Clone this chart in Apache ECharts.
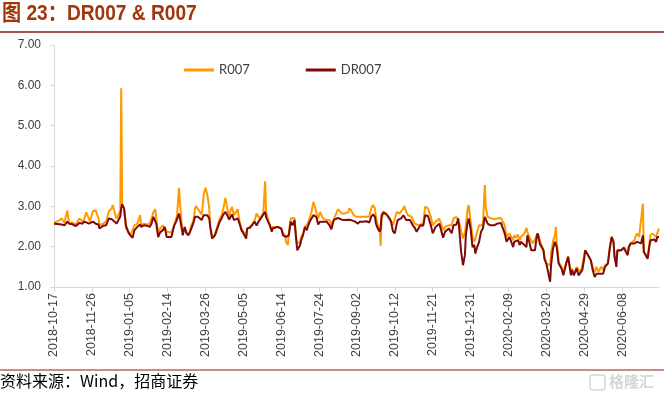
<!DOCTYPE html>
<html>
<head>
<meta charset="utf-8">
<script src="https://cdn.jsdelivr.net/npm/echarts@6/dist/echarts.min.js"></script>
<style>
html,body{margin:0;padding:0;background:#fff;}
#chart{width:664px;height:393px;}
</style>
</head>
<body>
<div id="chart"></div>
<script>
// ---- data ----
const tickDates = ['2018-10-17','2018-11-26','2019-01-05','2019-02-14','2019-03-26','2019-05-05','2019-06-14','2019-07-24','2019-09-02','2019-10-12','2019-11-21','2019-12-31','2020-02-09','2020-03-20','2020-04-29','2020-06-08'];

const dates = [
'2018-10-17','2018-10-21','2018-10-25','2018-10-28','2018-10-31','2018-11-02','2018-11-05','2018-11-09','2018-11-10','2018-11-13',
'2018-11-16','2018-11-18','2018-11-20','2018-11-23','2018-11-24','2018-11-27','2018-11-30','2018-12-03','2018-12-04','2018-12-08',
'2018-12-11','2018-12-14','2018-12-17','2018-12-18','2018-12-20','2018-12-22','2018-12-24','2018-12-26','2018-12-27','2018-12-28',
'2018-12-30','2019-01-01','2019-01-04','2019-01-06','2019-01-08','2019-01-10','2019-01-13','2019-01-16','2019-01-17','2019-01-20',
'2019-01-23','2019-01-26','2019-01-28','2019-01-30','2019-02-01','2019-02-02','2019-02-04','2019-02-06','2019-02-09','2019-02-11',
'2019-02-13','2019-02-15','2019-02-18','2019-02-21','2019-02-23','2019-02-24','2019-02-26','2019-02-27','2019-03-01','2019-03-02',
'2019-03-04','2019-03-06','2019-03-08','2019-03-09','2019-03-11','2019-03-13','2019-03-15','2019-03-16','2019-03-18','2019-03-20',
'2019-03-22','2019-03-23','2019-03-24','2019-03-26','2019-03-28','2019-03-30','2019-03-31','2019-04-02','2019-04-05','2019-04-07',
'2019-04-10','2019-04-12','2019-04-14','2019-04-16','2019-04-18','2019-04-20','2019-04-21','2019-04-23','2019-04-25','2019-04-27',
'2019-04-29','2019-05-01','2019-05-03','2019-05-05','2019-05-08','2019-05-09','2019-05-12','2019-05-14','2019-05-15','2019-05-17',
'2019-05-19','2019-05-21','2019-05-22','2019-05-24','2019-05-26','2019-05-28','2019-05-29','2019-05-31','2019-06-02','2019-06-04',
'2019-06-05','2019-06-07','2019-06-10','2019-06-12','2019-06-14','2019-06-16','2019-06-18','2019-06-19','2019-06-21','2019-06-22',
'2019-06-24','2019-06-26','2019-06-28','2019-06-30','2019-07-01','2019-07-04','2019-07-05','2019-07-07','2019-07-09','2019-07-11',
'2019-07-12','2019-07-14','2019-07-16','2019-07-18','2019-07-19','2019-07-21','2019-07-23','2019-07-25','2019-07-26','2019-07-28',
'2019-07-30','2019-08-01','2019-08-02','2019-08-04','2019-08-06','2019-08-08','2019-08-09','2019-08-11','2019-08-13','2019-08-15',
'2019-08-17','2019-08-18','2019-08-20','2019-08-22','2019-08-24','2019-08-25','2019-08-27','2019-08-29','2019-08-31','2019-09-01',
'2019-09-03','2019-09-05','2019-09-07','2019-09-08','2019-09-10','2019-09-12','2019-09-14','2019-09-15','2019-09-17','2019-09-19',
'2019-09-21','2019-09-22','2019-09-24','2019-09-26','2019-09-27','2019-09-28','2019-09-30','2019-10-01','2019-10-03','2019-10-05',
'2019-10-07','2019-10-08','2019-10-10','2019-10-12','2019-10-14','2019-10-15','2019-10-17','2019-10-19','2019-10-21','2019-10-22',
'2019-10-24','2019-10-26','2019-10-28','2019-10-30','2019-10-31','2019-11-02','2019-11-04','2019-11-06','2019-11-08','2019-11-11',
'2019-11-13','2019-11-16','2019-11-19','2019-11-21','2019-11-24','2019-11-28','2019-11-29','2019-12-02','2019-12-04','2019-12-06',
'2019-12-08','2019-12-11','2019-12-13','2019-12-16','2019-12-18','2019-12-20','2019-12-21','2019-12-23','2019-12-25','2019-12-26',
'2019-12-28','2019-12-29','2019-12-31','2020-01-02','2020-01-04','2020-01-05','2020-01-07','2020-01-09','2020-01-11','2020-01-13',
'2020-01-15','2020-01-16','2020-01-18','2020-01-21','2020-01-25','2020-01-28','2020-02-01','2020-02-03','2020-02-05','2020-02-07',
'2020-02-08','2020-02-10','2020-02-12','2020-02-14','2020-02-15','2020-02-17','2020-02-19','2020-02-21','2020-02-22','2020-02-24',
'2020-02-26','2020-02-28','2020-02-29','2020-03-02','2020-03-04','2020-03-06','2020-03-08','2020-03-10','2020-03-11','2020-03-13',
'2020-03-15','2020-03-17','2020-03-18','2020-03-20','2020-03-22','2020-03-24','2020-03-25','2020-03-27','2020-03-29','2020-03-30',
'2020-03-31','2020-04-02','2020-04-03','2020-04-05','2020-04-07','2020-04-08','2020-04-10','2020-04-12','2020-04-13','2020-04-15',
'2020-04-16','2020-04-18','2020-04-20','2020-04-21','2020-04-23','2020-04-25','2020-04-27','2020-04-29','2020-04-30','2020-05-02',
'2020-05-04','2020-05-06','2020-05-07','2020-05-08','2020-05-10','2020-05-12','2020-05-14','2020-05-15','2020-05-17','2020-05-19',
'2020-05-21','2020-05-23','2020-05-24','2020-05-26','2020-05-28','2020-05-30','2020-05-31','2020-06-02','2020-06-03','2020-06-05',
'2020-06-07','2020-06-08','2020-06-10','2020-06-12','2020-06-14','2020-06-15','2020-06-17','2020-06-19','2020-06-21','2020-06-22',
'2020-06-24','2020-06-26','2020-06-28','2020-06-30','2020-07-01','2020-07-03','2020-07-05','2020-07-07','2020-07-08','2020-07-10',
'2020-07-12','2020-07-14','2020-07-15','2020-07-17'
];

const r007 = [
2.60,2.63,2.70,2.60,2.90,2.57,2.60,2.55,2.55,2.70,
2.62,2.68,2.85,2.68,2.63,2.88,2.90,2.70,2.53,2.57,
2.62,2.88,2.95,3.03,2.86,2.70,2.78,2.90,5.93,3.05,
2.95,2.47,2.35,2.30,2.28,2.53,2.57,2.78,2.53,2.57,
2.55,2.57,2.70,2.86,2.93,2.70,2.33,2.45,2.53,2.55,
2.37,2.35,2.35,2.53,2.70,2.78,3.46,3.11,2.53,2.37,
2.45,2.33,2.33,2.33,2.53,2.62,2.95,3.01,2.99,2.86,
2.80,2.99,3.28,3.46,3.28,2.95,2.53,2.24,2.30,2.33,
2.70,2.78,2.95,3.21,2.95,2.70,2.86,2.99,2.78,2.74,
2.93,2.62,2.45,2.37,2.30,2.45,2.49,2.53,2.57,2.66,
2.82,2.86,2.70,2.76,2.82,3.62,2.86,2.70,2.53,2.41,
2.49,2.49,2.49,2.49,2.45,2.33,2.28,2.12,2.04,2.33,
2.70,2.74,2.71,2.20,2.08,2.12,2.24,2.33,2.49,2.45,
2.57,2.70,2.86,3.11,3.03,2.86,2.70,2.86,2.82,2.70,
2.70,2.66,2.70,2.66,2.53,2.66,2.70,2.82,2.93,2.90,
2.82,2.82,2.82,2.82,2.86,2.95,2.90,2.80,2.78,2.74,
2.70,2.74,2.76,2.74,2.74,2.74,2.71,2.74,2.95,3.03,
2.95,2.74,2.53,2.45,2.02,2.70,2.82,2.86,2.82,2.78,
2.70,2.66,2.53,2.70,2.86,2.86,2.82,2.82,2.95,3.01,
2.86,2.78,2.74,2.74,2.66,2.57,2.53,2.53,2.53,2.57,
2.99,2.95,2.74,2.53,2.62,2.70,2.62,2.41,2.49,2.53,
2.53,2.53,2.70,2.74,2.74,2.53,2.37,2.20,2.37,2.53,
2.95,3.03,3.07,2.24,2.12,2.20,2.37,2.53,2.57,2.53,
3.53,2.99,2.74,2.71,2.68,2.70,2.71,2.71,2.53,2.24,
2.20,2.33,2.24,2.16,2.28,2.22,2.30,2.16,2.24,2.28,
2.33,2.47,2.37,2.24,2.16,2.08,2.04,2.28,2.33,2.16,
2.04,1.91,1.75,1.58,1.62,1.54,1.83,2.12,2.28,2.49,
2.12,1.62,1.58,1.50,1.37,1.42,1.62,1.75,1.79,1.33,
1.46,1.33,1.42,1.50,1.54,1.37,1.54,1.79,1.91,1.83,
1.75,1.66,1.58,1.50,1.37,1.50,1.37,1.42,1.50,1.42,
1.54,1.54,1.58,1.99,2.24,2.12,1.79,1.66,1.87,1.87,
1.91,1.91,1.99,1.91,1.83,1.95,2.08,2.12,2.16,2.24,
2.33,2.24,2.24,3.07,1.87,1.83,1.75,2.08,2.28,2.33,
2.33,2.24,2.33,2.45
];

const dr007 = [
2.57,2.56,2.55,2.53,2.62,2.57,2.56,2.51,2.49,2.59,
2.57,2.62,2.60,2.57,2.59,2.62,2.57,2.55,2.45,2.52,
2.53,2.70,2.68,2.65,2.62,2.57,2.60,2.75,2.95,3.05,
2.95,2.52,2.33,2.27,2.22,2.41,2.49,2.55,2.49,2.53,
2.52,2.49,2.57,2.74,2.78,2.57,2.24,2.35,2.41,2.49,
2.24,2.20,2.24,2.53,2.62,2.66,2.82,2.70,2.45,2.28,
2.49,2.33,2.28,2.33,2.45,2.57,2.74,2.76,2.74,2.70,
2.66,2.70,2.78,2.82,2.78,2.70,2.49,2.20,2.28,2.30,
2.62,2.70,2.80,2.86,2.78,2.67,2.71,2.80,2.66,2.66,
2.70,2.57,2.41,2.33,2.20,2.45,2.47,2.53,2.55,2.62,
2.52,2.62,2.66,2.72,2.80,2.86,2.74,2.62,2.53,2.37,
2.45,2.49,2.49,2.49,2.45,2.28,2.24,2.24,2.24,2.28,
2.62,2.53,2.66,2.12,1.91,2.04,2.16,2.28,2.49,2.41,
2.49,2.62,2.70,2.78,2.82,2.74,2.55,2.62,2.66,2.62,
2.66,2.62,2.62,2.53,2.43,2.62,2.67,2.66,2.71,2.70,
2.67,2.66,2.66,2.68,2.67,2.67,2.66,2.66,2.62,2.62,
2.57,2.62,2.63,2.62,2.62,2.63,2.62,2.60,2.74,2.80,
2.74,2.57,2.45,2.37,2.45,2.78,2.86,2.84,2.80,2.74,
2.70,2.62,2.38,2.33,2.57,2.66,2.70,2.71,2.78,2.82,
2.66,2.62,2.66,2.68,2.53,2.47,2.37,2.33,2.53,2.52,
2.78,2.76,2.53,2.33,2.49,2.57,2.49,2.22,2.37,2.41,
2.45,2.33,2.53,2.55,2.70,2.16,1.87,1.54,1.79,2.28,
2.62,2.70,2.45,1.99,2.04,1.83,1.99,2.12,2.37,2.45,
2.74,2.70,2.57,2.53,2.53,2.57,2.59,2.57,2.33,2.12,
2.12,2.24,2.20,1.99,2.12,2.08,2.16,2.04,2.12,2.16,
2.04,1.99,2.28,2.12,1.91,1.89,1.91,2.28,2.33,2.08,
1.99,1.91,1.70,1.58,1.54,1.13,1.54,1.95,2.12,2.16,
1.99,1.58,1.54,1.46,1.29,1.33,1.58,1.75,1.77,1.29,
1.42,1.29,1.33,1.46,1.29,1.33,1.42,1.70,1.91,1.83,
1.75,1.66,1.54,1.42,1.25,1.33,1.29,1.33,1.37,1.33,
1.50,1.50,1.58,1.95,2.24,2.12,1.75,1.50,1.91,1.95,
1.91,1.91,1.97,1.87,1.79,1.99,2.08,2.08,2.08,2.12,
2.12,2.12,2.08,2.28,1.87,1.83,1.70,2.04,2.16,2.20,
2.18,2.12,2.24,2.24
];

// ---- build ----
const DAY = 86400000;
const origin = Date.UTC(2018, 9, 17);
function toOffset(s) {
  const p = s.split('-').map(Number);
  return Math.round((Date.UTC(p[0], p[1] - 1, p[2]) - origin) / DAY);
}
function toDateStr(off) {
  return new Date(origin + off * DAY).toISOString().slice(0, 10);
}
const tickOffsets = tickDates.map(toOffset);
const xs = dates.map(toOffset);
const rData = xs.map((x, i) => [x, r007[i]]);
const drData = xs.map((x, i) => [x, dr007[i]]);
const xMax = xs[xs.length - 1];

const chart = echarts.init(document.getElementById('chart'), null, {renderer: 'canvas'});
const axisColor = '#D9D9D9';
const labelColor = '#404040';
chart.setOption({
  animation: false,
  backgroundColor: '#fff',
  grid: {left: 54, right: 5, top: 45, bottom: 106, containLabel: false},
  legend: {
    data: ['R007', 'DR007'],
    icon: 'rect',
    left: 184, top: 62, padding: 0,
    itemWidth: 30, itemHeight: 3, itemGap: 56,
    textStyle: {fontSize: 13, color: labelColor, fontFamily: 'Lato, "Noto Sans", sans-serif', lineHeight: 16}
  },
  xAxis: {
    type: 'value', min: 0, max: xMax,
    axisLine: {show: true, lineStyle: {color: axisColor, width: 1}},
    axisTick: {show: true, length: 5, customValues: tickOffsets, lineStyle: {color: axisColor}},
    splitLine: {show: false},
    axisLabel: {
      customValues: tickOffsets,
      rotate: 90, margin: 6,
      fontSize: 12.5, color: labelColor, fontFamily: '"Liberation Sans", Arial, sans-serif',
      formatter: v => toDateStr(v)
    }
  },
  yAxis: {
    type: 'value', min: 1, max: 7, interval: 1,
    axisLine: {show: true, lineStyle: {color: axisColor, width: 1}},
    axisTick: {show: true, length: 4, lineStyle: {color: axisColor}},
    splitLine: {show: false},
    axisLabel: {
      margin: 13, fontSize: 12, color: labelColor,
      fontFamily: '"Liberation Sans", Arial, sans-serif',
      formatter: v => v.toFixed(2)
    }
  },
  series: [
    {name: 'R007', type: 'line', data: rData, symbol: 'none', showSymbol: false,
     lineStyle: {color: '#FF9900', width: 2}, itemStyle: {color: '#FF9900'}},
    {name: 'DR007', type: 'line', data: drData, symbol: 'none', showSymbol: false,
     lineStyle: {color: '#7F0A0A', width: 2}, itemStyle: {color: '#7F0A0A'}}
  ],
  graphic: [
    {type: 'text', x: 2, y: 3, scaleX: 0.87, silent: true,
     style: {text: '图 23：DR007 & R007', fill: '#A0360A',
       font: 'bold 22px "Liberation Sans", "Noto Sans CJK SC", sans-serif'}},
    {type: 'line', silent: true, shape: {x1: 0, y1: 32, x2: 664, y2: 32},
     style: {stroke: '#8B1A1A', lineWidth: 1.5}},
    {type: 'line', silent: true, shape: {x1: 0, y1: 370, x2: 664, y2: 370},
     style: {stroke: '#8B1A1A', lineWidth: 1}},
    {type: 'text', left: 0, top: 373, silent: true,
     style: {text: '资料来源：Wind，招商证券', fill: '#000',
       font: '16px "Noto Sans CJK SC", sans-serif'}},
    {type: 'rect', silent: true, shape: {x: 590, y: 375, width: 15, height: 15, r: 3},
     style: {fill: 'none', stroke: '#d6d6d6', lineWidth: 1.5}},
    {type: 'text', left: 609, top: 374, silent: true,
     style: {text: '格隆汇', fill: '#d6d6d6', font: 'bold 15px "Noto Sans CJK SC", sans-serif'}}
  ]
});
</script>
</body>
</html>
